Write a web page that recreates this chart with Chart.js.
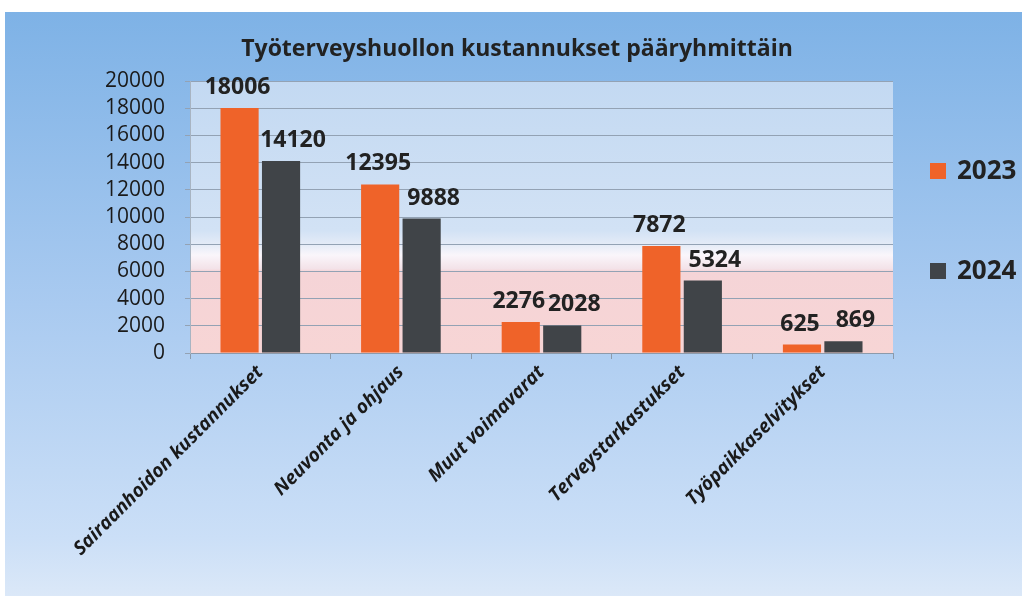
<!DOCTYPE html>
<html>
<head>
<meta charset="utf-8">
<script src="https://cdn.jsdelivr.net/npm/chart.js@4"></script>
<style>
  html, body { margin: 0; padding: 0; background: #fff; }
  #wrap { width: 1022px; height: 596px; }
</style>
</head>
<body>
<div id="wrap"><canvas id="chart" width="1022" height="596"></canvas></div>
<script>
// Kategoriat ja sarjat
const categories = ['Sairaanhoidon kustannukset', 'Neuvonta ja ohjaus', 'Muut voimavarat', 'Terveystarkastukset', 'Työpaikkaselvitykset'];
const years = ['2023', '2024'];
const values2023 = [18006, 12395, 2276, 7872, 625];
const values2024 = [14120, 9888, 2028, 5324, 869];
const yTicks = [0, 2000, 4000, 6000, 8000, 10000, 12000, 14000, 16000, 18000, 20000];

const titleText = 'Työterveyshuollon kustannukset pääryhmittäin';
const orange = '#ef6329';
const dark = '#404448';
const FONT = '"Open Sans", sans-serif';

// Taustat: ulompi sininen liukuväri ja piirtoalueen liukuväri
const backgrounds = {
    id: 'backgrounds',
    beforeDraw(chart) {
        const ctx = chart.ctx;
        const w = chart.width, h = chart.height;
        ctx.save();
        ctx.fillStyle = '#ffffff';
        ctx.fillRect(0, 0, w, h);
        let g = ctx.createLinearGradient(0, 12, 0, h);
        g.addColorStop(0, '#7eb2e6');
        g.addColorStop(0.5, '#a9caf0');
        g.addColorStop(0.9, '#cbdff7');
        g.addColorStop(1, '#dbe8f8');
        ctx.fillStyle = g;
        ctx.fillRect(5, 12, w - 5, h - 12);

        const a = chart.chartArea;
        g = ctx.createLinearGradient(0, a.top, 0, a.bottom);
        g.addColorStop(0, '#c3d9f2');
        g.addColorStop(0.55, '#d2e2f5');
        g.addColorStop(0.6, '#e4ebf7');
        g.addColorStop(0.64, '#faf6fb');
        g.addColorStop(0.69, '#f3e2e8');
        g.addColorStop(0.7, '#f5d4d7');
        g.addColorStop(1, '#f7d5d5');
        ctx.fillStyle = g;
        ctx.fillRect(a.left, a.top, a.right - a.left, a.bottom - a.top);

        // otsikko
        ctx.fillStyle = '#222';
        ctx.font = 'bold 23px ' + FONT;
        ctx.textAlign = 'center';
        ctx.textBaseline = 'middle';
        ctx.fillText(titleText, 517, 49);
        ctx.restore();
    }
};

// Arvot pylväiden päälle + legenda oikealle
const labelsAndLegend = {
    id: 'labelsAndLegend',
    afterDatasetsDraw(chart) {
        const ctx = chart.ctx;
        ctx.save();
        ctx.fillStyle = '#222';
        ctx.font = 'bold 23px ' + FONT;
        ctx.textAlign = 'center';
        ctx.textBaseline = 'bottom';
        const shift = [-2, 12]; // 2024-arvot hieman oikealle kuten alkuperäisessä
        chart.data.datasets.forEach((ds, i) => {
            chart.getDatasetMeta(i).data.forEach((bar, j) => {
                ctx.fillText(String(ds.data[j]), bar.x + shift[i], bar.y - 9);
            });
        });

        const a = chart.chartArea;
        const legendY = [171, 271];
        ctx.font = 'bold 26px ' + FONT;
        ctx.textAlign = 'left';
        ctx.textBaseline = 'middle';
        chart.data.datasets.forEach((ds, i) => {
            const x = a.right + 37;
            ctx.fillStyle = ds.backgroundColor;
            ctx.fillRect(x, legendY[i] - 8, 16, 16);
            ctx.fillStyle = '#222';
            ctx.fillText(ds.label, x + 27, legendY[i] + 1);
        });
        ctx.restore();
    }
};

new Chart(document.getElementById('chart'), {
    type: 'bar',
    data: {
        labels: categories,
        datasets: [
            { label: years[0], data: values2023, backgroundColor: orange },
            { label: years[1], data: values2024, backgroundColor: dark }
        ]
    },
    options: {
        responsive: false,
        animation: false,
        layout: { padding: { top: 81, right: 129, left: 5, bottom: 0 } },
        categoryPercentage: 0.59,
        barPercentage: 0.92,
        plugins: {
            legend: { display: false },
            tooltip: { enabled: false }
        },
        scales: {
            x: {
                afterFit(scale) { scale.height = 596 - 353; },
                grid: { display: true, drawOnChartArea: false, offset: true, color: '#8c9aab', tickLength: 6 },
                border: { color: '#8c9aab' },
                ticks: {
                    color: '#1a1a1a',
                    font: { family: FONT, size: 19, weight: 'bold', style: 'italic' },
                    maxRotation: 45,
                    minRotation: 45,
                    padding: 2
                }
            },
            y: {
                min: 0,
                max: 20000,
                afterFit(scale) { scale.width = 185; },
                afterBuildTicks(scale) { scale.ticks = yTicks.map(v => ({ value: v })); },
                grid: { color: '#93a2b4', tickLength: 5 },
                border: { color: '#a8b4c2' },
                ticks: {
                    color: '#1a1a1a',
                    font: { family: FONT, size: 21 },
                    padding: 20,
                    autoSkip: false,
                    callback: v => String(v)
                }
            }
        }
    },
    plugins: [backgrounds, labelsAndLegend]
});
</script>
</body>
</html>
